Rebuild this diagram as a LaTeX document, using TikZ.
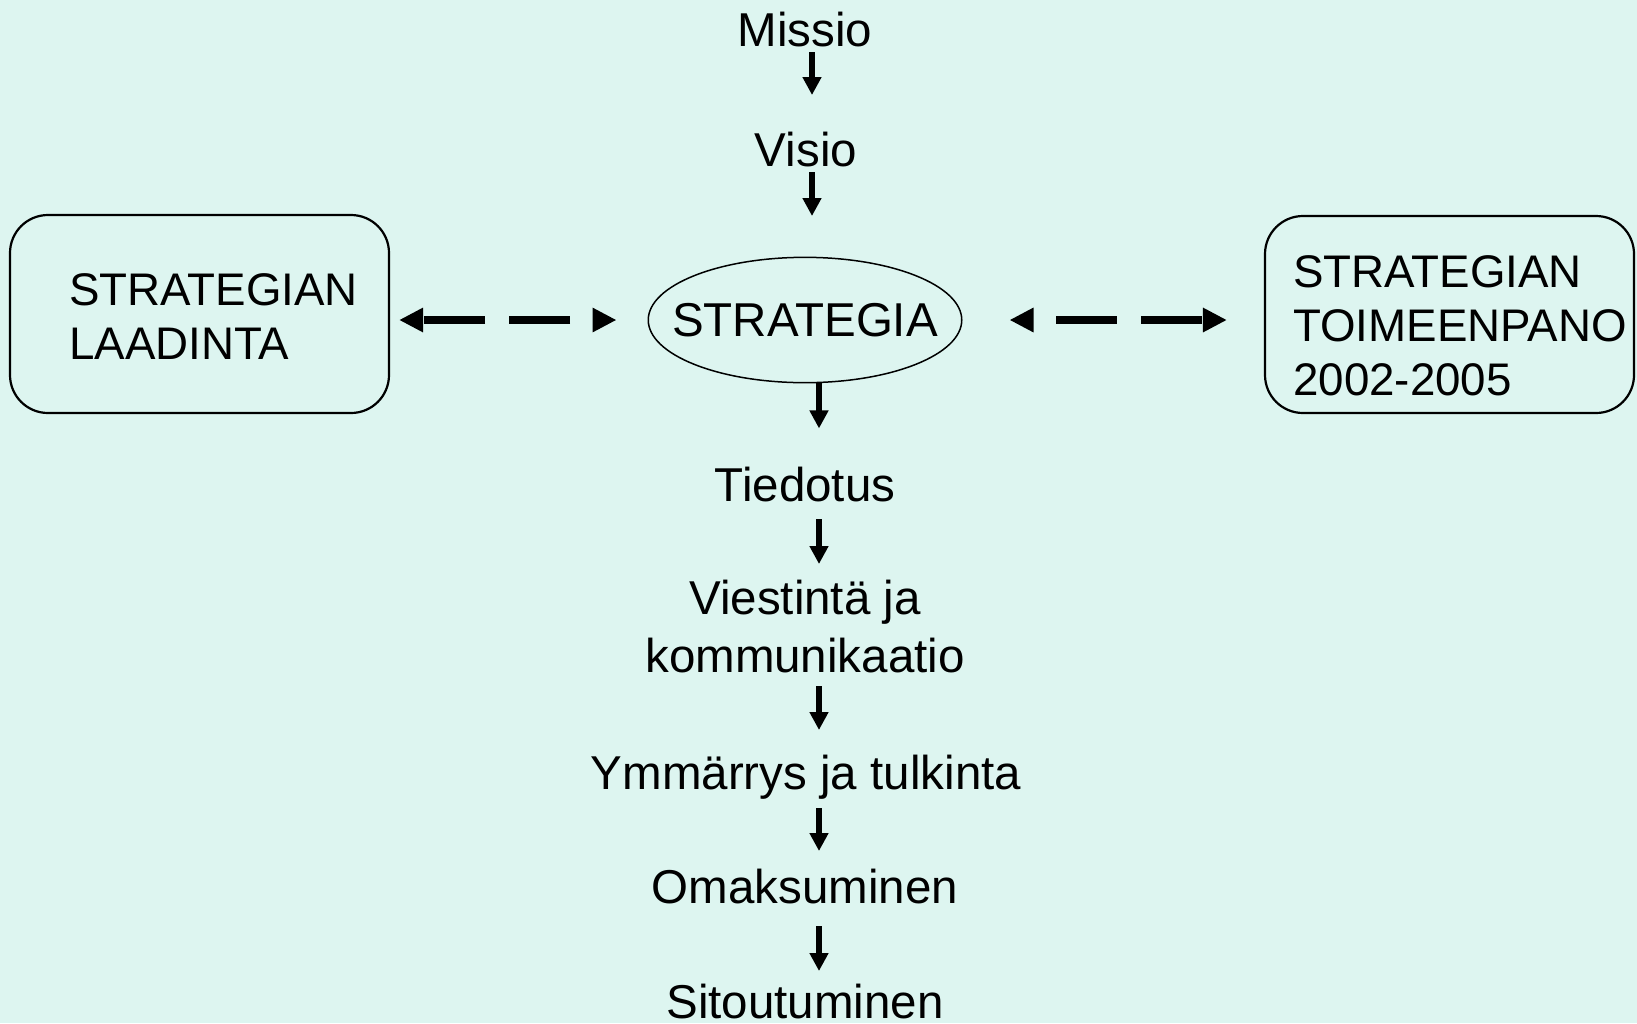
\documentclass[tikz,border=0pt]{standalone}
\usepackage{fontspec}
\setmainfont{Liberation Sans}
\usetikzlibrary{arrows.meta}
\usetikzlibrary{shapes.geometric}
\definecolor{mint}{RGB}{221,245,240}

\begin{document}
\begin{tikzpicture}[x=1pt, y=-1pt,
    lbl/.style={inner sep=0pt, font=\fontsize{47.5}{58}\selectfont},
    boxlbl/.style={inner sep=0pt, align=left, font=\fontsize{45.7}{54}\selectfont},
    panel/.style={draw, line width=2.2pt, rounded corners=38pt},
    vflow/.style={line width=6pt, -{Triangle[length=18pt,width=18pt]}},
    hflow/.style={line width=8pt, dash pattern=on 61pt off 24pt, dash phase=61pt,
      {Triangle[length=24pt,width=23pt]}-{Triangle[length=24pt,width=23pt]}}]
  \fill[mint] (0,0) rectangle (1637,1023);
  \useasboundingbox (0,0) rectangle (1637,1023);

  % top of the chain
  \node[lbl, anchor=base] (missio) at (805,46) {Missio};
  \node[lbl, anchor=base] (visio) at (806,166) {Visio};
  \node[lbl, draw, ellipse, line width=1.5pt, inner xsep=-22pt, inner ysep=27.5pt] (strategia) at (805,320) {STRATEGIA};

  % the two boxes
  \node[panel, minimum width=379pt, minimum height=198pt] (laadinta) at (199.5,314) {};
  \node[boxlbl, anchor=west] (laadintateksti) at (69,317) {STRATEGIAN\\LAADINTA};
  \node[panel, minimum width=369pt, minimum height=197pt] (toimeenpano) at (1449.5,314.5) {};
  \node[boxlbl, anchor=west] (toimeenpanoteksti) at (1293,326) {STRATEGIAN\\TOIMEENPANO\\2002-2005};

  % below the ellipse
  \node[lbl, anchor=base] (tiedotus) at (805,501) {Tiedotus};
  \node[lbl, align=center, anchor=south] (viestinta) at (805,673) {Viestintä ja\\kommunikaatio};
  \node[lbl, anchor=base] (ymmarrys) at (806,789) {Ymmärrys ja tulkinta};
  \node[lbl, anchor=base] (omaksuminen) at (805,903) {Omaksuminen};
  \node[lbl, anchor=base] (sitoutuminen) at (805,1018) {Sitoutuminen};

  \draw[vflow] ([xshift=7pt]missio.base) ++(0,6) -- ++(0,43);
  \draw[vflow] ([xshift=6pt]visio.base) ++(0,6) -- ++(0,44);
  \draw[vflow] ([xshift=14pt]strategia.south) -- ++(0,45);
  \draw[vflow] ([xshift=14pt]tiedotus.base) ++(0,18) -- ++(0,45);
  \draw[vflow] ([xshift=14pt]viestinta.south) ++(0,13) -- ++(0,44);
  \draw[vflow] ([xshift=13pt]ymmarrys.base) ++(0,19) -- ++(0,43);
  \draw[vflow] ([xshift=14pt]omaksuminen.base) ++(0,23) -- ++(0,45);

  \draw[hflow, shorten <=31pt, shorten >=9pt] (strategia.west) -- (strategia.west -| laadinta.east);
  \draw[hflow, shorten <=47pt, shorten >=37pt] (strategia.east) -- (strategia.east -| toimeenpano.west);
\end{tikzpicture}
\end{document}
